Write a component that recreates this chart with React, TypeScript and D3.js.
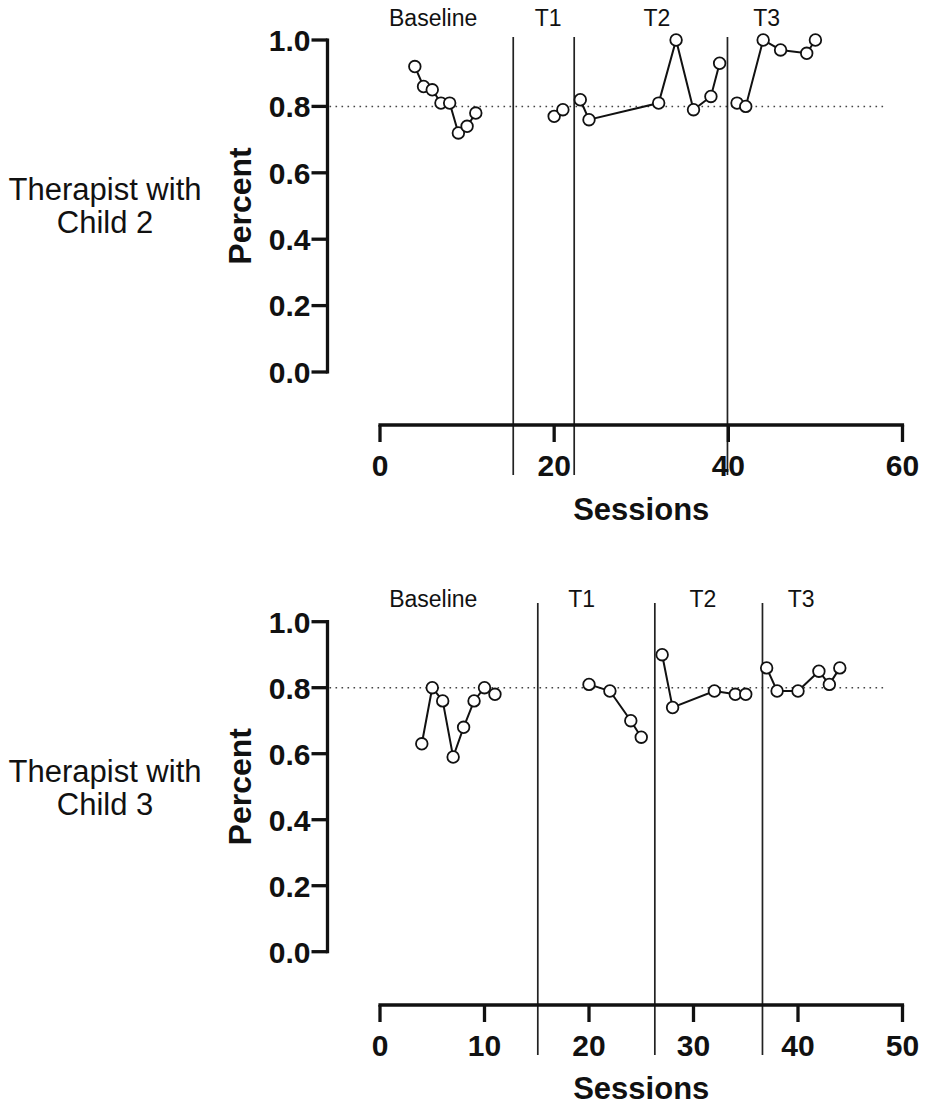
import React from "react";
import * as d3 from "d3";

// ---------- data ----------
// Top panel: Therapist with Child 2
const child2Baseline: [number, number][] = [[4, 0.92], [5, 0.86], [6, 0.85], [7, 0.81], [8, 0.81], [9, 0.72], [10, 0.74], [11, 0.78]];
const child2T1: [number, number][] = [[20, 0.77], [21, 0.79]];
const child2T2: [number, number][] = [[23, 0.82], [24, 0.76], [32, 0.81], [34, 1.0], [36, 0.79], [38, 0.83], [39, 0.93]];
const child2T3: [number, number][] = [[41, 0.81], [42, 0.8], [44, 1.0], [46, 0.97], [49, 0.96], [50, 1.0]];
const child2PhaseLines = [15.3, 22.3, 39.9];
const child2PhaseLabels = ["Baseline", "T1", "T2", "T3"];
const child2LabelPos = [6.1, 19.3, 31.8, 44.4];
const child2XTicks = [0, 20, 40, 60];

// Bottom panel: Therapist with Child 3
const child3Baseline: [number, number][] = [[4, 0.63], [5, 0.8], [6, 0.76], [7, 0.59], [8, 0.68], [9, 0.76], [10, 0.8], [11, 0.78]];
const child3T1: [number, number][] = [[20, 0.81], [22, 0.79], [24, 0.7], [25, 0.65]];
const child3T2: [number, number][] = [[27, 0.9], [28, 0.74], [32, 0.79], [34, 0.78], [35, 0.78]];
const child3T3: [number, number][] = [[37, 0.86], [38, 0.79], [40, 0.79], [42, 0.85], [43, 0.81], [44, 0.86]];
const child3PhaseLines = [15.1, 26.3, 36.6];
const child3PhaseLabels = ["Baseline", "T1", "T2", "T3"];
const child3LabelPos = [5.1, 19.3, 30.9, 40.3];
const child3XTicks = [0, 10, 20, 30, 40, 50];

const yTicks = [0, 0.2, 0.4, 0.6, 0.8, 1.0];
const criterion = 0.8;

const FONT = "'Liberation Sans', Arial, Helvetica, sans-serif";

type PanelProps = {
  top: number;
  bottom: number;
  xMax: number;
  xTicks: number[];
  phases: [number, number][][];
  phaseLines: number[];
  phaseLabels: string[];
  labelPos: number[];
  leftLabel: string[];
  xAxisY: number;
  labelBaseline: number;
  lineTop: number;
  sessionsY: number;
  criterionEnd: number;
};

function Panel(p: PanelProps) {
  const x = d3.scaleLinear().domain([0, p.xMax]).range([380, 902.5]);
  const y = d3.scaleLinear().domain([0, 1]).range([p.bottom, p.top]);
  const line = d3
    .line<[number, number]>()
    .x((d) => x(d[0]))
    .y((d) => y(d[1]));
  const yAxisX = 327.5;
  return (
    <g>
      <text x={105} y={p.top + 160} textAnchor="middle" fontFamily={FONT} fontSize={31} fill="#111">
        <tspan x={105}>{p.leftLabel[0]}</tspan>
        <tspan x={105} dy={33}>
          {p.leftLabel[1]}
        </tspan>
      </text>

      <text
        transform={`translate(${240},${(p.top + p.bottom) / 2}) rotate(-90)`}
        textAnchor="middle"
        dominantBaseline="central"
        fontFamily={FONT}
        fontWeight="bold"
        fontSize={32}
        fill="#111"
      >
        Percent
      </text>

      <line
        x1={yAxisX + 2}
        x2={p.criterionEnd}
        y1={y(criterion)}
        y2={y(criterion)}
        stroke="#444"
        strokeWidth={1.5}
        strokeDasharray="1.6,4.4"
      />

      {p.phaseLines.map((v, i) => (
        <line key={i} x1={x(v)} x2={x(v)} y1={p.lineTop} y2={p.xAxisY + 50} stroke="#222" strokeWidth={1.7} />
      ))}

      {p.phaseLabels.map((t, i) => (
        <text
          key={t}
          x={x(p.labelPos[i])}
          y={p.labelBaseline}
          textAnchor="middle"
          fontFamily={FONT}
          fontSize={23}
          fill="#111"
        >
          {t}
        </text>
      ))}

      <line x1={yAxisX} x2={yAxisX} y1={p.top - 1.6} y2={p.bottom + 1.6} stroke="#111" strokeWidth={3.3} />
      {yTicks.map((t) => (
        <g key={t}>
          <line x1={yAxisX - 16} x2={yAxisX} y1={y(t)} y2={y(t)} stroke="#111" strokeWidth={3.3} />
          <text
            x={yAxisX - 17}
            y={y(t)}
            dy="0.36em"
            textAnchor="end"
            fontFamily={FONT}
            fontWeight="bold"
            fontSize={30}
            fill="#111"
          >
            {d3.format(".1f")(t)}
          </text>
        </g>
      ))}

      <line x1={x(0) - 1.6} x2={x(p.xMax) + 1.6} y1={p.xAxisY} y2={p.xAxisY} stroke="#111" strokeWidth={3.3} />
      {p.xTicks.map((t) => (
        <g key={t}>
          <line x1={x(t)} x2={x(t)} y1={p.xAxisY} y2={p.xAxisY + 17} stroke="#111" strokeWidth={3.3} />
          <text
            x={x(t)}
            y={p.xAxisY + 40}
            dy="0.36em"
            textAnchor="middle"
            fontFamily={FONT}
            fontWeight="bold"
            fontSize={30}
            fill="#111"
          >
            {t}
          </text>
        </g>
      ))}
      <text
        x={(x(0) + x(p.xMax)) / 2}
        y={p.sessionsY}
        textAnchor="middle"
        fontFamily={FONT}
        fontWeight="bold"
        fontSize={31}
        fill="#111"
      >
        Sessions
      </text>

      {p.phases.map((ph, i) => (
        <g key={i}>
          <path d={line(ph) || ""} fill="none" stroke="#111" strokeWidth={2} />
          {ph.map((d, j) => (
            <circle key={j} cx={x(d[0])} cy={y(d[1])} r={5.8} fill="#fff" stroke="#111" strokeWidth={1.8} />
          ))}
        </g>
      ))}
    </g>
  );
}

export default function App() {
  return (
    <svg
      width={925}
      height={1109}
      viewBox="0 0 925 1109"
      style={{ position: "absolute", left: 0, top: 0, background: "#fff" }}
    >
      <rect width={925} height={1109} fill="#fff" />
      <Panel
        top={40}
        bottom={372}
        xMax={60}
        xTicks={child2XTicks}
        phases={[child2Baseline, child2T1, child2T2, child2T3]}
        phaseLines={child2PhaseLines}
        phaseLabels={child2PhaseLabels}
        labelPos={child2LabelPos}
        leftLabel={["Therapist with", "Child 2"]}
        xAxisY={425}
        labelBaseline={26}
        lineTop={37}
        sessionsY={520}
        criterionEnd={885}
      />
      <Panel
        top={621.7}
        bottom={951.7}
        xMax={50}
        xTicks={child3XTicks}
        phases={[child3Baseline, child3T1, child3T2, child3T3]}
        phaseLines={child3PhaseLines}
        phaseLabels={child3PhaseLabels}
        labelPos={child3LabelPos}
        leftLabel={["Therapist with", "Child 3"]}
        xAxisY={1005}
        labelBaseline={607}
        lineTop={603}
        sessionsY={1099}
        criterionEnd={885}
      />
    </svg>
  );
}
